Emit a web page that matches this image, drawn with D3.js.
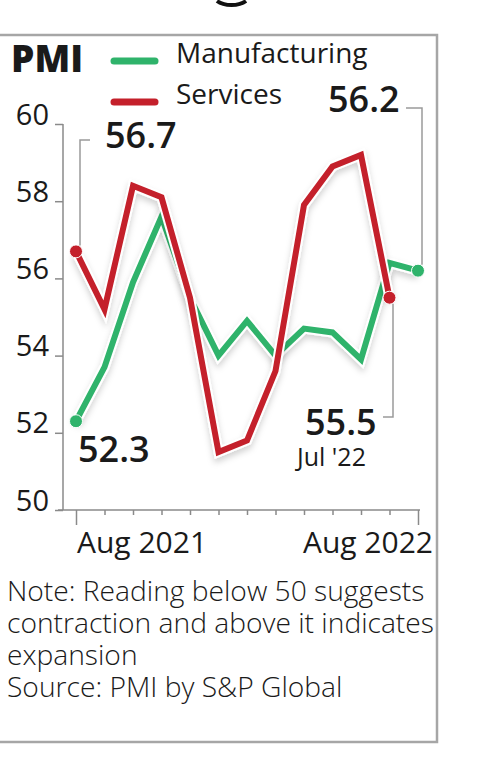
<!DOCTYPE html>
<html>
<head>
<meta charset="utf-8">
<script src="https://cdn.jsdelivr.net/npm/d3@7"></script>
<style>
  body { margin: 0; background: #fff; }
  svg { display: block; }
  text { font-family: "Open Sans", Lato, sans-serif; fill: #1a1a1a; }
</style>
</head>
<body>
<div id="chart"></div>
<script>
// monthly readings, Aug 2021 .. Aug 2022
var months = ['Aug 2021', 'Sep 2021', 'Oct 2021', 'Nov 2021', 'Dec 2021', 'Jan 2022',
  'Feb 2022', 'Mar 2022', 'Apr 2022', 'May 2022', 'Jun 2022', 'Jul 2022', 'Aug 2022']
var manufacturing = [52.3, 53.7, 55.9, 57.6, 55.5, 54.0, 54.9, 54.0, 54.7, 54.6, 53.9, 56.4, 56.2]
var services = [56.7, 55.2, 58.4, 58.1, 55.5, 51.5, 51.8, 53.6, 57.9, 58.9, 59.2, 55.5]
var yTicks = [50, 52, 54, 56, 58, 60]
var xLabels = ['Aug 2021', 'Aug 2022']
var noteLines = ['Note: Reading below 50 suggests', 'contraction and above it indicates',
  'expansion', 'Source: PMI by S&P Global']

var green = '#2fb36b'
var red = '#c4202b'

var w = 482
var h = 765

var svg = d3.select('#chart').append('svg')
  .attr('width', w)
  .attr('height', h)

var defs = svg.append('defs')
var f = defs.append('filter').attr('id', 'shadow')
  .attr('x', '-10%').attr('y', '-10%').attr('width', '120%').attr('height', '130%')
f.append('feDropShadow')
  .attr('dx', 0).attr('dy', 4).attr('stdDeviation', 3)
  .attr('flood-color', '#000').attr('flood-opacity', 0.18)

// bit of a circle peeking in at the top
svg.append('path')
  .attr('d', 'M217,1 A18,10 0 0 0 246,1')
  .attr('fill', 'none')
  .attr('stroke', '#111')
  .attr('stroke-width', 4)

// frame
svg.append('path')
  .attr('d', 'M0,35 H437 V742 H0')
  .attr('fill', 'none')
  .attr('stroke', '#a6a6a6')
  .attr('stroke-width', 2.5)

var x = d3.scaleLinear().domain([0, months.length - 1]).range([76, 418])
var y = d3.scaleLinear().domain([50, 60]).range([510, 124])

// y axis
var yAxis = svg.append('g')
  .attr('transform', 'translate(63,0)')
  .call(d3.axisLeft(y).tickValues(yTicks).tickSize(8).tickFormat(d3.format('d')))
yAxis.select('.domain').attr('stroke', '#8a8a8a').attr('stroke-width', 1.5)
  .attr('d', 'M0,' + y(60) + 'V' + y(50))
yAxis.selectAll('.tick line').attr('stroke', '#8a8a8a').attr('stroke-width', 1.5)
yAxis.selectAll('.tick text')
  .attr('x', -14)
  .attr('dy', 0)
  .style('font-family', '"Open Sans", sans-serif')
  .style('font-size', '29px')
  .attr('fill', '#1a1a1a')

// x axis
var xAxis = svg.append('g')
  .attr('transform', 'translate(0,' + y(50) + ')')
  .call(d3.axisBottom(x).tickValues(d3.range(months.length)).tickSize(5).tickFormat(''))
xAxis.select('.domain').attr('stroke', '#8a8a8a').attr('stroke-width', 1.5)
  .attr('d', 'M58,0H' + (x(months.length - 1) + 2))
xAxis.selectAll('.tick line')
  .attr('stroke', '#8a8a8a').attr('stroke-width', 1.5)
  .attr('y2', function(d) { return xLabels.indexOf(months[d]) >= 0 ? 15 : 5 })

xLabels.forEach(function(lab, i) {
  var idx = months.indexOf(lab)
  svg.append('text')
    .attr('x', x(idx) + (i == 0 ? 1 : 15))
    .attr('y', 553)
    .attr('text-anchor', i == 0 ? 'start' : 'end')
    .style('font-size', '30px')
    .text(lab)
})

// lines
var line = d3.line()
  .x(function(d, i) { return x(i) })
  .y(function(d) { return y(d) })

function drawSeries(data, colour) {
  svg.append('path')
    .datum(data)
    .attr('d', line)
    .attr('fill', 'none')
    .attr('stroke', '#fff')
    .attr('stroke-width', 10)
    .attr('stroke-linejoin', 'miter')
    .attr('filter', 'url(#shadow)')
  svg.append('path')
    .datum(data)
    .attr('d', line)
    .attr('fill', 'none')
    .attr('stroke', colour)
    .attr('stroke-width', 6)
    .attr('stroke-linejoin', 'miter')
}

drawSeries(manufacturing, green)
drawSeries(services, red)

function dot(i, v, colour) {
  svg.append('circle')
    .attr('cx', x(i))
    .attr('cy', y(v))
    .attr('r', 6.5)
    .attr('fill', colour)
    .attr('stroke', '#fff')
    .attr('stroke-width', 1)
}
dot(0, manufacturing[0], green)
dot(manufacturing.length - 1, manufacturing[manufacturing.length - 1], green)
dot(0, services[0], red)
dot(services.length - 1, services[services.length - 1], red)

// leaders + callouts
function leader(d) {
  svg.append('path').attr('d', d)
    .attr('fill', 'none').attr('stroke', '#9a9a9a').attr('stroke-width', 1.5)
}
var sLast = services.length - 1
var mLast = manufacturing.length - 1
leader('M90,140 H80 V' + (y(services[0]) - 6))
leader('M406,108 H422 V' + (y(manufacturing[mLast]) - 6))
leader('M383,417 H393 V' + (y(services[sLast]) + 6))

function callout(tx, ty, txt) {
  return svg.append('text')
    .attr('x', tx).attr('y', ty)
    .style('font-size', '36px')
    .style('font-weight', 600)
    .text(txt)
}
callout(105, 148, d3.format('.1f')(services[0]))
callout(328, 112, d3.format('.1f')(manufacturing[mLast]))
callout(78, 462, d3.format('.1f')(manufacturing[0]))

// last services reading, with its month under it
var jul = svg.append('text').attr('x', 305).attr('y', 435)
jul.append('tspan')
  .style('font-size', '36px')
  .style('font-weight', 600)
  .text(d3.format('.1f')(services[sLast]))
jul.append('tspan')
  .attr('x', 297).attr('y', 466)
  .style('font-size', '25px')
  .text("Jul '22")

// title + legend
svg.append('text')
  .attr('x', 11).attr('y', 72)
  .style('font-size', '37px')
  .style('font-weight', 800)
  .text('PMI')

var legend = [{ name: 'Manufacturing', colour: green, y: 61 }, { name: 'Services', colour: red, y: 102 }]
legend.forEach(function(l) {
  svg.append('line')
    .attr('x1', 114).attr('x2', 155)
    .attr('y1', l.y).attr('y2', l.y)
    .attr('stroke', l.colour)
    .attr('stroke-width', 7)
    .attr('stroke-linecap', 'round')
  svg.append('text')
    .attr('x', 176).attr('y', l.y + 2)
    .style('font-size', '28px')
    .text(l.name)
})

// note, one block of lines
var note = svg.append('text')
  .style('font-size', '28.2px')
  .style('font-weight', 300)
note.selectAll('tspan')
  .data(noteLines)
  .enter().append('tspan')
  .attr('x', 7)
  .attr('y', function(d, i) { return 601 + i * 32 })
  .text(function(d) { return d })
</script>
</body>
</html>
